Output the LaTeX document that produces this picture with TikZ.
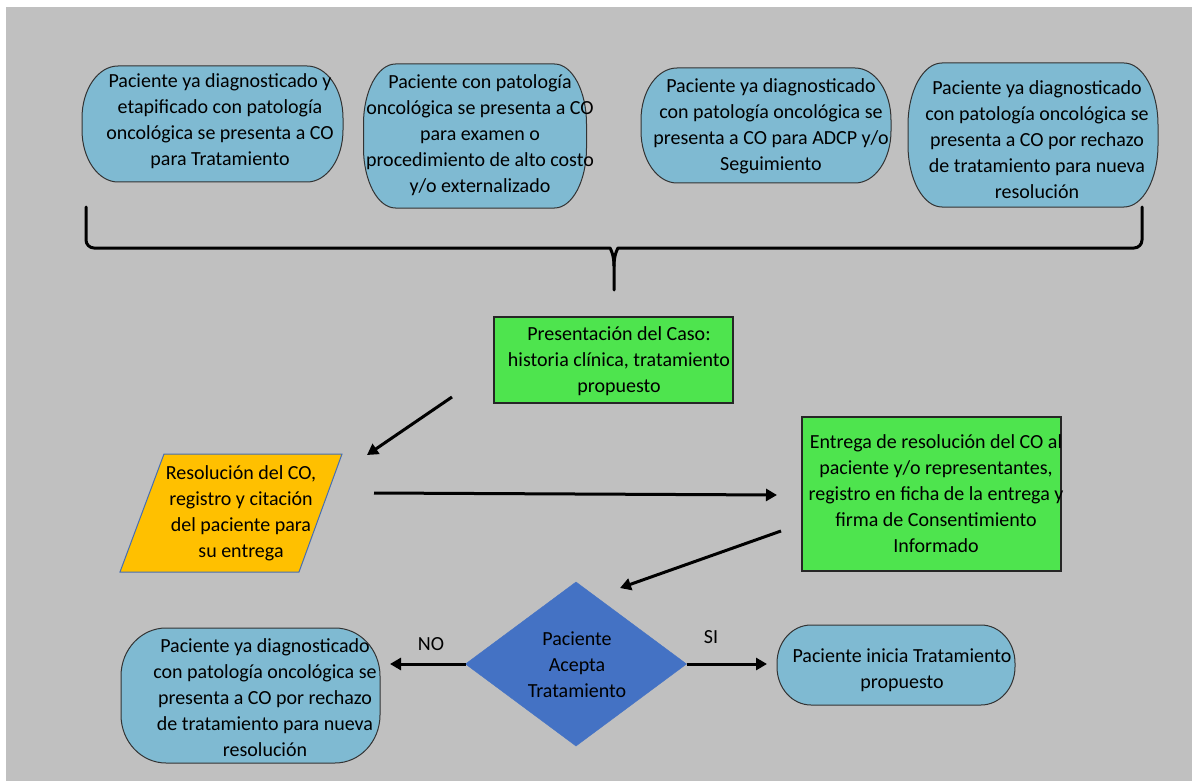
\documentclass[tikz,border=0pt]{standalone}
\usepackage{fontspec}
\setmainfont{Carlito}
\usetikzlibrary{arrows.meta,shapes.geometric}
\definecolor{bggray}{RGB}{192,192,192}
\definecolor{lblue}{RGB}{127,186,210}
\definecolor{lgreen}{RGB}{78,228,78}
\definecolor{orng}{RGB}{255,192,0}
\definecolor{dblue}{RGB}{68,114,196}
\definecolor{pborder}{RGB}{70,110,180}
\newcommand\stadshape[7]{%
  \node[minimum width=#4pt,minimum height=#5pt,inner sep=0pt,outer sep=0pt] (#1) at (#2,#3) {};
  \draw[stadline] ([xshift=#6pt]#1.north west) -- ([xshift=-#6pt]#1.north east)
    arc[start angle=90,end angle=0,x radius=#6pt,y radius=#7pt]
    -- ([yshift=#7pt]#1.south east)
    arc[start angle=0,end angle=-90,x radius=#6pt,y radius=#7pt]
    -- ([xshift=#6pt]#1.south west)
    arc[start angle=270,end angle=180,x radius=#6pt,y radius=#7pt]
    -- ([yshift=-#7pt]#1.north west)
    arc[start angle=180,end angle=90,x radius=#6pt,y radius=#7pt] -- cycle;}
\begin{document}
\begin{tikzpicture}[x=1pt,y=-1pt,
  stadline/.style={draw=black!80,line width=1pt,fill=lblue},
  txt/.style={align=center,inner sep=0pt,font=\fontsize{20}{26}\selectfont,text=black},
  gbox/.style={draw=black!85,line width=1.5pt,fill=lgreen,inner sep=0pt},
  arr/.style={line width=3pt,-{Triangle[length=11pt,width=12pt]}},
  bracestyle/.style={line width=3pt,line cap=round,line join=round}]
\useasboundingbox (0,0) rectangle (1192,781);
\fill[bggray] (6,7) rectangle (1192,781);

% top row
\stadshape{n1}{212.5}{124}{261}{116}{36}{52}
\node[txt] (t1) at (220,121) {Paciente ya diagnosticado y\\etapificado con patología\\oncológica se presenta a CO\\para Tratamiento};
\stadshape{n2}{475}{136}{223}{144}{32}{60}
\node[txt] (t2) at (480,135) {Paciente con patología\\oncológica se presenta a CO\\para examen o\\procedimiento de alto costo\\y/o externalizado};
\stadshape{n3}{766}{125.5}{250}{115}{36}{52}
\node[txt] (t3) at (771,126.5) {Paciente ya diagnosticado\\con patología oncológica se\\presenta a CO para ADCP y/o\\Seguimiento};
\stadshape{n4}{1033}{135}{250}{144}{34}{62}
\node[txt] (t4) at (1037,140) {Paciente ya diagnosticado\\con patología oncológica se\\presenta a CO por rechazo\\de tratamiento para nueva\\resolución};

% brace
\draw[bracestyle] (86,207) [rounded corners=8pt] -- (86,248) -- (602,248) [sharp corners]
  .. controls (610,248) and (614,254) .. (614,266) -- (614,290);
\draw[bracestyle] (1142,207) [rounded corners=8pt] -- (1142,248) -- (626,248) [sharp corners]
  .. controls (618,248) and (614,254) .. (614,266);

% presentation box
\node[gbox,minimum width=239pt,minimum height=86pt] (g1) at (613.5,360) {};
\node[txt] (tg1) at (619,361) {Presentación del Caso:\\historia clínica, tratamiento\\propuesto};

% parallelogram
\coordinate (p1) at (164,454);
\coordinate (p2) at (342,454);
\coordinate (p3) at (299,572);
\coordinate (p4) at (120,572);
\draw[fill=orng,draw=pborder,line width=1pt] (p1) -- (p2) -- (p3) -- (p4) -- cycle;
\node[txt] (tp) at (241,513) {Resolución del CO,\\registro y citación\\del paciente para\\su entrega};

% delivery box
\node[gbox,minimum width=259pt,minimum height=154pt] (g2) at (931.5,494) {};
\node[txt] (tg2) at (936,494) {Entrega de resolución del CO al\\paciente y/o representantes,\\registro en ficha de la entrega y\\firma de Consentimiento\\Informado};

% diamond
\node[diamond,fill=dblue,draw=dblue,minimum width=221pt,minimum height=164pt,inner sep=0pt,outer sep=0pt] (dia) at (576,664) {};
\node[txt] (td) at (577,665) {Paciente\\Acepta\\Tratamiento};

% bottom nodes
\stadshape{nl}{250.5}{695.5}{259}{135}{45}{48}
\node[txt] (tl) at (265,698) {Paciente ya diagnosticado\\con patología oncológica se\\presenta a CO por rechazo\\de tratamiento para nueva\\resolución};
\stadshape{nr}{896}{665}{238}{80}{34}{38}
\node[txt] (tr) at (902,670) {Paciente inicia Tratamiento\\propuesto};

% arrows
\coordinate (a1s) at (452,397);
\coordinate (a1e) at (367,455);
\draw[arr] (a1s) -- (a1e);
\coordinate (a2s) at (374,493);
\coordinate (a2e) at (777,495);
\draw[arr] (a2s) -- (a2e);
\coordinate (a3s) at (781,531);
\coordinate (a3e) at (620,588);
\draw[arr] (a3s) -- (a3e);
\coordinate (noe) at (390,664);
\draw[arr] (dia.west) -- (noe);
\coordinate (sie) at (767,664);
\draw[arr] (dia.east) -- (sie);
\node[txt] (lno) at (431,644) {NO};
\node[txt] (lsi) at (711,637) {SI};
\end{tikzpicture}
\end{document}
